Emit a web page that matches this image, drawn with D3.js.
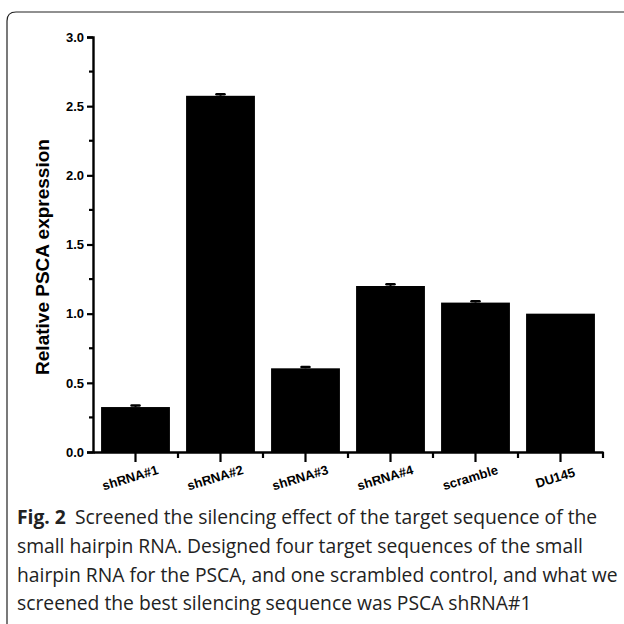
<!DOCTYPE html>
<html>
<head>
<meta charset="utf-8">
<script src="https://cdn.jsdelivr.net/npm/d3@7"></script>
<style>
  body { margin: 0; background: #fff; }
  svg { display: block; }
</style>
</head>
<body>
<div id="chart"></div>
<script>
// data
const categories = ['shRNA#1', 'shRNA#2', 'shRNA#3', 'shRNA#4', 'scramble', 'DU145'];
const values = [0.325, 2.575, 0.605, 1.2, 1.08, 1.0];
const errors = [0.012, 0.012, 0.01, 0.012, 0.01, 0];
const yTicks = [0, 0.5, 1.0, 1.5, 2.0, 2.5, 3.0];
const captionLines = [
  'Screened the silencing effect of the target sequence of the',
  'small hairpin RNA. Designed four target sequences of the small',
  'hairpin RNA for the PSCA, and one scrambled control, and what we',
  'screened the best silencing sequence was PSCA shRNA#1'
];

const width = 624, height = 624;
const svg = d3.select('#chart').append('svg')
  .attr('width', width)
  .attr('height', height);

// frame around figure + caption
svg.append('path')
  .attr('d', 'M7,624 L7,21 Q7,12 16,12 L624,12')
  .attr('fill', 'none')
  .attr('stroke', '#222')
  .attr('stroke-width', 1.2);

const x = d3.scaleBand()
  .domain(categories)
  .range([93, 603])
  .paddingInner(0.19)
  .paddingOuter(0.095);

const y = d3.scaleLinear()
  .domain([0, 3])
  .range([452, 37]);

// bars
svg.selectAll('rect.bar')
  .data(values)
  .enter()
  .append('rect')
  .attr('class', 'bar')
  .attr('x', (d, i) => x(categories[i]))
  .attr('width', x.bandwidth())
  .attr('y', d => y(d))
  .attr('height', d => y(0) - y(d))
  .attr('fill', '#000');

// error bars (upper only, small)
const errG = svg.append('g');
values.forEach((v, i) => {
  if (!errors[i]) return;
  const cx = x(categories[i]) + x.bandwidth() / 2;
  errG.append('line')
    .attr('x1', cx).attr('x2', cx)
    .attr('y1', y(v)).attr('y2', y(v + errors[i]))
    .attr('stroke', '#000').attr('stroke-width', 2);
  errG.append('line')
    .attr('x1', cx - 4).attr('x2', cx + 4)
    .attr('y1', y(v + errors[i])).attr('y2', y(v + errors[i]))
    .attr('stroke', '#000').attr('stroke-width', 2.5)
    .attr('stroke-linecap', 'round');
});

// y axis
const yAxis = svg.append('g')
  .attr('transform', 'translate(93,0)')
  .call(d3.axisLeft(y).tickValues(yTicks).tickFormat(d3.format('.1f')).tickSize(6).tickPadding(3));
yAxis.select('.domain').attr('stroke-width', 2.4);
yAxis.selectAll('.tick line').attr('stroke-width', 2.2);
yAxis.selectAll('.tick text')
  .attr('font-family', 'Arial, Liberation Sans, sans-serif')
  .attr('font-weight', 'bold')
  .attr('font-size', 13)
  .attr('fill', '#000');

// y minor ticks
svg.append('g')
  .selectAll('line')
  .data(d3.range(0.25, 3, 0.5))
  .enter()
  .append('line')
  .attr('x1', 89).attr('x2', 93)
  .attr('y1', d => y(d)).attr('y2', d => y(d))
  .attr('stroke', '#000').attr('stroke-width', 2.2);

// x axis
const xAxis = svg.append('g')
  .attr('transform', 'translate(0,452)')
  .call(d3.axisBottom(x).tickSize(10).tickSizeOuter(0).tickFormat(''));
xAxis.select('.domain').attr('stroke-width', 2.4);
xAxis.selectAll('.tick line').attr('stroke-width', 2.2);

// x minor ticks at band edges
const step = x.step();
svg.append('g')
  .selectAll('line')
  .data(categories)
  .enter()
  .append('line')
  .attr('x1', (d, i) => 93 + step * (i + 1))
  .attr('x2', (d, i) => 93 + step * (i + 1))
  .attr('y1', 452).attr('y2', 458)
  .attr('stroke', '#000').attr('stroke-width', 2.2);

// x labels, slanted
svg.append('g')
  .selectAll('text')
  .data(categories)
  .enter()
  .append('text')
  .attr('transform', d => `translate(${x(d) + x.bandwidth() / 2 - 4},${482}) rotate(-17)`)
  .attr('text-anchor', 'middle')
  .attr('font-family', 'Arial, Liberation Sans, sans-serif')
  .attr('font-weight', 'bold')
  .attr('font-size', 13)
  .text(d => d);

// y title
svg.append('text')
  .attr('transform', 'translate(49,257) rotate(-90)')
  .attr('text-anchor', 'middle')
  .attr('font-family', 'Arial, Liberation Sans, sans-serif')
  .attr('font-weight', 'bold')
  .attr('font-size', 19)
  .text('Relative PSCA expression');

// caption
const cap = svg.append('g')
  .attr('font-family', '"Open Sans", "Noto Sans", sans-serif')
  .attr('font-size', 19.3)
  .attr('fill', '#222');
const first = cap.append('text').attr('x', 17).attr('y', 524);
first.append('tspan').attr('font-weight', 'bold').text('Fig. 2');
first.append('tspan').attr('dx', 9).text(captionLines[0]);
captionLines.slice(1).forEach((t, i) => {
  cap.append('text').attr('x', 17).attr('y', 553 + i * 28.5).text(t);
});
</script>
</body>
</html>
